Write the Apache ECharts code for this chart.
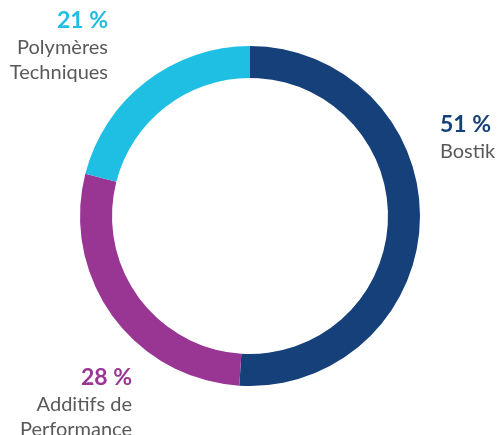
<!DOCTYPE html>
<html>
<head>
<meta charset="utf-8">
<script src="https://cdn.jsdelivr.net/npm/echarts@6/dist/echarts.min.js"></script>
<style>
  html, body { margin: 0; padding: 0; background: #fff; }
  #main { width: 497px; height: 435px; }
</style>
</head>
<body>
<div id="main"></div>
<script>
// parts du chiffre d'affaires
var names = ['Bostik', 'Additifs de\nPerformance', 'Polymères\nTechniques'];
var values = [51, 28, 21];
var colors = ['#154079', '#993694', '#1fbfe4'];

// où poser chaque étiquette
var labelPos = [
    { x: 440, y: 111, align: 'left' },
    { x: 132, y: 364, align: 'right' },
    { x: 108, y: 7, align: 'right' }
];

var data = values.map(function (v, i) {
    return {
        value: v,
        name: names[i],
        itemStyle: { color: colors[i] },
        label: {
            rich: {
                p: { fontSize: 23, fontWeight: 'bold', color: colors[i], lineHeight: 28, fontFamily: 'Lato' },
                n: { fontSize: 20, color: '#58595b', lineHeight: 25, fontFamily: 'Lato' }
            }
        }
    };
});

var myChart = echarts.init(document.getElementById('main'));
myChart.setOption({
    animation: false,
    series: [{
        type: 'pie',
        center: [250, 216],
        radius: [138, 170],
        startAngle: 90,
        clockwise: true,
        silent: true,
        data: data,
        label: {
            show: true,
            position: 'outside',
            overflow: 'none',
            width: 200,
            formatter: function (p) {
                var lines = p.name.split('\n').map(function (s) { return '{n|' + s + '}'; });
                return '{p|' + p.value + ' %}\n' + lines.join('\n');
            }
        },
        labelLine: { show: false },
        labelLayout: function (params) {
            var pos = labelPos[params.dataIndex];
            return { x: pos.x, y: pos.y, align: pos.align, verticalAlign: 'top', hideOverlap: false };
        }
    }]
});
</script>
</body>
</html>
